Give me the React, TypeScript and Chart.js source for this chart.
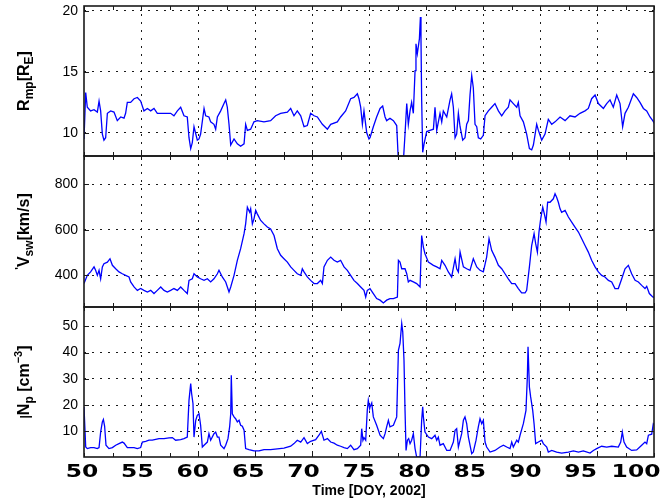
import { useEffect, useRef } from "react";
import { Chart, registerables } from "chart.js";

Chart.register(...registerables);

// Magnetopause standoff distance R_mp [R_E], DOY 50-100, 2002
const rmpSeries: [number, number][] = [
  [50.0, 9.5], [50.15, 13.3], [50.29, 12.1], [50.58, 11.8], [50.88, 11.9], [51.17, 11.7], [51.32, 12.6],
  [51.46, 11.8], [51.61, 9.9], [51.75, 9.4], [51.9, 9.6], [52.05, 11.6], [52.34, 11.8], [52.63, 11.7],
  [52.92, 11.0], [53.22, 11.3], [53.51, 11.2], [53.65, 11.6], [53.8, 12.5], [54.09, 12.5], [54.39, 12.8],
  [54.68, 12.9], [54.97, 12.6], [55.26, 11.8], [55.56, 12.0], [55.85, 11.8], [56.14, 12.0], [56.43, 11.6],
  [57.02, 11.6], [57.6, 11.6], [57.89, 11.4], [58.19, 11.8], [58.48, 12.1], [58.77, 11.4], [59.06, 11.3],
  [59.21, 9.6], [59.36, 8.7], [59.5, 9.2], [59.65, 10.5], [59.94, 9.4], [60.09, 9.5], [60.23, 9.9],
  [60.53, 12.0], [60.67, 11.4], [60.96, 11.3], [61.11, 10.9], [61.4, 10.7], [61.55, 10.3], [61.7, 11.3],
  [61.99, 11.8], [62.28, 12.4], [62.43, 12.7], [62.57, 12.1], [62.72, 10.7], [62.87, 9.0], [63.16, 9.5],
  [63.45, 9.1], [63.74, 8.9], [64.04, 9.1], [64.18, 10.7], [64.33, 10.2], [64.62, 10.3], [64.91, 10.9],
  [65.2, 11.0], [65.79, 10.9], [66.37, 11.0], [66.81, 11.4], [67.25, 11.6], [67.84, 11.7], [68.13, 12.0],
  [68.42, 11.4], [68.71, 11.8], [69.01, 11.4], [69.3, 10.5], [69.59, 10.6], [69.88, 11.6], [70.18, 11.4],
  [70.47, 11.3], [70.91, 10.7], [71.35, 10.3], [71.64, 10.7], [72.22, 10.9], [72.51, 11.3], [72.95, 11.8],
  [73.39, 12.8], [73.68, 12.9], [73.98, 13.2], [74.12, 12.8], [74.27, 12.1], [74.42, 10.7], [74.56, 11.8],
  [74.8, 10.0], [75.0, 9.5], [75.09, 9.6], [75.38, 10.5], [75.67, 11.3], [75.97, 12.0], [76.2, 12.2],
  [76.41, 11.3], [76.55, 11.0], [76.84, 11.2], [77.14, 11.0], [77.43, 10.6], [77.58, 7.6], [77.72, 7.6],
  [78.01, 7.6], [78.16, 9.9], [78.31, 12.4], [78.45, 10.7], [78.6, 11.8], [78.74, 12.5], [78.89, 11.6],
  [79.04, 15.1], [79.12, 17.3], [79.24, 16.5], [79.42, 17.7], [79.51, 19.5], [79.56, 17.7], [79.62, 12.7],
  [79.71, 8.4], [79.83, 9.1], [80.06, 10.1], [80.35, 10.2], [80.65, 10.3], [80.79, 12.1], [80.94, 10.2],
  [81.23, 11.6], [81.38, 10.9], [81.52, 11.8], [81.82, 11.3], [82.11, 12.7], [82.25, 13.2], [82.4, 12.1],
  [82.55, 9.6], [82.69, 9.9], [82.84, 11.6], [82.99, 10.5], [83.22, 9.4], [83.42, 9.6], [83.57, 10.7],
  [83.72, 11.0], [83.86, 13.1], [84.01, 14.7], [84.15, 13.7], [84.3, 10.7], [84.45, 10.5], [84.59, 9.6],
  [84.8, 9.5], [85.03, 9.8], [85.18, 11.4], [85.47, 11.8], [85.76, 12.1], [86.05, 12.4], [86.35, 11.8],
  [86.64, 11.4], [86.93, 11.8], [87.22, 12.1], [87.37, 12.7], [87.66, 12.4], [87.96, 12.1], [88.1, 12.5],
  [88.25, 11.4], [88.54, 10.9], [88.83, 9.9], [89.07, 8.7], [89.27, 8.6], [89.42, 9.0], [89.71, 10.7],
  [89.86, 10.2], [90.15, 9.4], [90.44, 9.9], [90.73, 11.1], [91.03, 10.7], [91.32, 10.9], [91.76, 11.3],
  [92.2, 11.0], [92.63, 11.4], [93.07, 11.3], [93.51, 11.6], [93.95, 11.8], [94.24, 12.0], [94.53, 12.8],
  [94.83, 13.1], [95.12, 12.4], [95.56, 12.0], [95.85, 12.4], [96.14, 12.7], [96.43, 12.1], [96.73, 13.1],
  [97.02, 12.4], [97.25, 10.5], [97.46, 11.6], [97.75, 12.1], [98.19, 13.2], [98.48, 12.9], [98.77, 12.5],
  [99.07, 12.0], [99.36, 11.8], [99.65, 11.3], [99.89, 11.0], [100.09, 10.7],
];

// Solar wind speed V_sw [km/s]
const vswSeries: [number, number][] = [
  [50.0, 364], [50.29, 400], [50.58, 415], [50.88, 437], [51.02, 422], [51.17, 400], [51.32, 422],
  [51.46, 385], [51.61, 437], [51.75, 451], [52.05, 458], [52.28, 473], [52.49, 444], [52.78, 429],
  [53.07, 415], [53.36, 407], [53.65, 400], [53.95, 393], [54.09, 371], [54.39, 349], [54.68, 334],
  [54.97, 342], [55.26, 334], [55.56, 327], [55.85, 334], [56.14, 320], [56.43, 334], [56.73, 349],
  [57.02, 334], [57.31, 327], [57.6, 334], [57.89, 342], [58.19, 334], [58.48, 349], [58.77, 334],
  [59.06, 320], [59.21, 378], [59.5, 385], [59.65, 407], [59.94, 393], [60.23, 385], [60.53, 378],
  [60.82, 385], [61.11, 371], [61.4, 385], [61.7, 407], [61.84, 422], [62.13, 393], [62.43, 371],
  [62.72, 327], [62.87, 349], [63.16, 400], [63.45, 466], [63.74, 517], [64.04, 583], [64.18, 626],
  [64.33, 699], [64.53, 677], [64.62, 692], [64.77, 626], [64.91, 648], [65.06, 685], [65.2, 670],
  [65.5, 641], [65.79, 626], [66.08, 612], [66.37, 604], [66.67, 575], [66.96, 517], [67.25, 488],
  [67.54, 473], [67.84, 458], [68.13, 437], [68.42, 422], [68.71, 407], [69.01, 400], [69.15, 429],
  [69.3, 415], [69.59, 393], [69.88, 378], [70.18, 364], [70.47, 364], [70.76, 378], [70.91, 364],
  [71.05, 437], [71.35, 466], [71.64, 480], [71.93, 466], [72.22, 458], [72.51, 466], [72.81, 437],
  [73.1, 422], [73.39, 400], [73.68, 378], [73.98, 364], [74.27, 349], [74.56, 334], [74.71, 305],
  [74.85, 334], [75.09, 342], [75.38, 320], [75.67, 298], [75.97, 291], [76.26, 279], [76.55, 291],
  [76.84, 298], [77.14, 298], [77.49, 305], [77.58, 466], [77.72, 458], [77.87, 429], [78.16, 429],
  [78.31, 407], [78.45, 371], [78.6, 378], [78.89, 371], [79.18, 364], [79.48, 349], [79.62, 575],
  [79.77, 524], [79.91, 495], [80.21, 458], [80.65, 444], [80.94, 437], [81.23, 429], [81.38, 466],
  [81.67, 444], [81.96, 415], [82.25, 393], [82.55, 473], [82.69, 429], [82.84, 415], [82.99, 502],
  [83.28, 437], [83.57, 429], [83.86, 422], [84.15, 473], [84.45, 437], [84.74, 422], [85.03, 415],
  [85.32, 480], [85.53, 561], [85.76, 510], [86.05, 480], [86.35, 444], [86.64, 429], [86.93, 407],
  [87.22, 385], [87.52, 364], [87.81, 364], [88.1, 342], [88.39, 323], [88.69, 323], [88.83, 334],
  [89.07, 437], [89.27, 531], [89.48, 583], [89.62, 539], [89.77, 502], [89.91, 590], [90.06, 648],
  [90.24, 699], [90.38, 670], [90.53, 634], [90.67, 721], [90.88, 721], [91.17, 736], [91.32, 758],
  [91.46, 743], [91.61, 721], [91.76, 692], [91.9, 677], [92.2, 685], [92.49, 656], [92.78, 634],
  [93.07, 612], [93.37, 590], [93.66, 561], [93.95, 531], [94.24, 502], [94.53, 466], [94.83, 437],
  [95.12, 415], [95.41, 400], [95.7, 393], [96.0, 378], [96.29, 371], [96.58, 342], [96.87, 342],
  [97.17, 385], [97.46, 429], [97.75, 444], [98.04, 407], [98.34, 378], [98.63, 371], [98.92, 356],
  [99.21, 342], [99.36, 352], [99.59, 320], [99.89, 305], [100.09, 302],
];

// Proton density N_p [cm^-3]
const npSeries: [number, number][] = [
  [50.0, 19.3], [50.15, 4.0], [50.29, 3.4], [50.58, 3.8], [50.88, 3.8], [51.17, 3.4], [51.32, 3.8],
  [51.46, 9.7], [51.61, 13.6], [51.7, 14.5], [51.81, 11.9], [51.93, 4.7], [52.19, 3.4], [52.49, 3.8],
  [52.78, 4.7], [53.07, 5.3], [53.36, 5.9], [53.51, 5.5], [53.8, 3.8], [54.09, 3.8], [54.39, 3.8],
  [54.68, 3.4], [54.97, 3.8], [55.12, 5.9], [55.41, 6.2], [55.7, 6.6], [55.99, 6.6], [56.29, 6.9],
  [56.58, 7.2], [57.02, 7.2], [57.46, 7.5], [57.75, 7.6], [58.04, 6.6], [58.48, 6.8], [58.77, 7.2],
  [59.06, 7.8], [59.21, 21.8], [59.36, 28.2], [59.44, 24.4], [59.56, 20.6], [59.65, 7.8], [59.8, 14.2],
  [59.94, 16.1], [60.09, 16.7], [60.23, 12.3], [60.38, 4.0], [60.53, 4.7], [60.82, 5.9], [60.96, 9.1],
  [61.11, 6.6], [61.4, 9.1], [61.55, 9.7], [61.7, 7.8], [61.84, 7.8], [61.99, 4.7], [62.28, 3.4],
  [62.43, 4.7], [62.63, 7.2], [62.78, 11.9], [62.87, 16.7], [62.92, 31.4], [63.01, 16.7], [63.16, 15.5],
  [63.3, 14.8], [63.45, 13.6], [63.6, 14.2], [63.74, 12.3], [63.89, 11.9], [64.04, 10.4], [64.18, 3.4],
  [64.47, 3.0], [64.91, 2.5], [65.35, 2.5], [65.79, 3.0], [66.37, 3.0], [66.96, 3.3], [67.54, 3.6],
  [68.13, 4.3], [68.42, 5.3], [68.71, 6.6], [69.01, 5.9], [69.3, 7.6], [69.59, 5.3], [69.88, 6.2],
  [70.32, 6.8], [70.61, 8.5], [70.82, 10.0], [71.05, 6.6], [71.35, 7.2], [71.64, 5.9], [71.93, 5.5],
  [72.22, 4.7], [72.51, 4.3], [72.81, 3.8], [73.1, 3.4], [73.39, 4.7], [73.68, 3.0], [73.98, 3.4],
  [74.27, 4.7], [74.36, 11.0], [74.47, 6.6], [74.56, 7.6], [74.71, 6.6], [74.85, 18.0], [74.94, 21.8],
  [75.06, 18.7], [75.09, 19.3], [75.24, 20.8], [75.38, 15.5], [75.67, 12.3], [75.97, 8.5], [76.26, 7.2],
  [76.41, 9.1], [76.55, 11.7], [76.7, 14.2], [76.84, 11.7], [77.14, 12.3], [77.43, 15.5], [77.58, 40.9],
  [77.72, 43.5], [77.87, 51.1], [77.96, 47.9], [78.07, 37.1], [78.16, 18.0], [78.25, 2.7], [78.37, 6.6],
  [78.48, 7.2], [78.6, 5.3], [78.74, 6.6], [78.89, 9.1], [79.04, 3.4], [79.18, 0.2], [79.48, 0.2],
  [79.62, 14.2], [79.71, 19.3], [79.77, 15.5], [79.91, 9.7], [80.21, 7.8], [80.5, 7.2], [80.79, 8.5],
  [80.94, 6.6], [81.08, 7.8], [81.23, 4.7], [81.52, 5.3], [81.82, 2.7], [82.11, 2.7], [82.4, 5.9],
  [82.55, 10.4], [82.69, 11.0], [82.84, 4.0], [82.99, 6.6], [83.13, 9.1], [83.28, 14.2], [83.42, 15.5],
  [83.57, 12.9], [83.72, 7.8], [84.01, 1.5], [84.15, 2.1], [84.39, 6.6], [84.59, 11.7], [84.74, 14.8],
  [84.89, 12.9], [85.03, 14.2], [85.18, 5.9], [85.32, 4.0], [85.62, 2.1], [86.05, 2.7], [86.49, 4.0],
  [86.79, 4.7], [87.08, 4.0], [87.37, 3.4], [87.52, 5.9], [87.66, 4.0], [87.96, 6.6], [88.1, 5.9],
  [88.25, 8.5], [88.54, 12.9], [88.77, 18.0], [88.89, 30.7], [88.95, 42.2], [89.07, 26.9], [89.18, 23.1],
  [89.36, 18.0], [89.48, 12.9], [89.62, 5.3], [89.86, 5.9], [90.15, 6.6], [90.29, 5.3], [90.59, 4.0],
  [90.73, 2.1], [91.03, 2.7], [91.46, 2.1], [91.9, 1.7], [92.49, 2.1], [92.93, 2.5], [93.37, 2.1],
  [93.8, 2.5], [94.39, 1.7], [94.68, 2.7], [94.97, 3.4], [95.41, 4.3], [95.85, 4.0], [96.29, 4.3],
  [96.87, 4.0], [97.08, 5.9], [97.22, 9.7], [97.37, 5.9], [97.6, 4.0], [98.04, 2.7], [98.48, 2.9],
  [98.92, 4.7], [99.21, 5.9], [99.36, 5.3], [99.51, 8.5], [99.8, 8.9], [99.94, 12.9], [100.09, 12.3],
];

// Axis ranges and tick labels
const dayRange = [50, 100];
const dayTickStep = 2.5;
const dayLabelStep = 5;
const rmpRange = [8.1, 20.4];
const rmpTicks = [10, 15, 20];
const vswRange = [261, 924];
const vswTicks = [400, 600, 800];
const npRange = [0.2, 57.4];
const npTicks = [10, 20, 30, 40, 50];
const xTitle = "Time [DOY, 2002]";

type Seg = { text: string; size: number; shift: number };

const rmpTitle: Seg[] = [
  { text: "R", size: 16, shift: 0 },
  { text: "mp", size: 12, shift: 4 },
  { text: "[R", size: 16, shift: 0 },
  { text: "E", size: 12, shift: 4 },
  { text: "]", size: 16, shift: 0 },
];
const vswTitle: Seg[] = [
  { text: "'", size: 11, shift: -6 },
  { text: "V", size: 16, shift: 0 },
  { text: "sw", size: 12, shift: 4 },
  { text: "[km/s]", size: 16, shift: 0 },
];
const npTitle: Seg[] = [
  { text: "|", size: 12, shift: 0 },
  { text: "N", size: 16, shift: 0 },
  { text: "p", size: 12, shift: 4 },
  { text: " [cm", size: 16, shift: 0 },
  { text: "−3", size: 11, shift: -7 },
  { text: "]", size: 16, shift: 0 },
];

const LINE = "#0000ff";
const INK = "#1a1a1a";
const TITLE_FONT = '"Liberation Sans", Arial, sans-serif';

// Solid box around each panel with inward tick marks on all four sides
const framePlugin = {
  id: "frame",
  afterDatasetsDraw(chart: any) {
    const { ctx, chartArea: a, scales } = chart;
    ctx.save();
    ctx.strokeStyle = INK;
    ctx.lineWidth = 1;
    ctx.beginPath();
    scales.x.ticks.forEach((t: any) => {
      const px = Math.round(scales.x.getPixelForValue(t.value)) + 0.5;
      ctx.moveTo(px, a.bottom);
      ctx.lineTo(px, a.bottom - 4);
      ctx.moveTo(px, a.top);
      ctx.lineTo(px, a.top + 4);
    });
    scales.y.ticks.forEach((t: any) => {
      const py = Math.round(scales.y.getPixelForValue(t.value)) + 0.5;
      ctx.moveTo(a.left, py);
      ctx.lineTo(a.left + 5, py);
      ctx.moveTo(a.right, py);
      ctx.lineTo(a.right - 5, py);
    });
    ctx.stroke();
    ctx.lineWidth = 1.6;
    ctx.strokeRect(a.left, a.top, a.right - a.left, a.bottom - a.top);
    ctx.restore();
  },
};

// Rotated y-axis title with sub/superscripts
function richTitlePlugin(segs: Seg[], x: number) {
  return {
    id: "richTitle",
    afterDraw(chart: any) {
      const { ctx, chartArea: a } = chart;
      ctx.save();
      const widths = segs.map((s) => {
        ctx.font = `bold ${s.size}px ${TITLE_FONT}`;
        return ctx.measureText(s.text).width;
      });
      const total = widths.reduce((p, w) => p + w, 0);
      ctx.translate(x, (a.top + a.bottom) / 2);
      ctx.rotate(-Math.PI / 2);
      ctx.fillStyle = "#000";
      ctx.textBaseline = "alphabetic";
      ctx.textAlign = "left";
      let cx = -total / 2;
      segs.forEach((s, i) => {
        ctx.font = `bold ${s.size}px ${TITLE_FONT}`;
        ctx.fillText(s.text, cx, s.shift);
        cx += widths[i];
      });
      ctx.restore();
    },
  };
}

// Wide day-of-year labels under the bottom panel, plus the axis title
const dayLabelPlugin = {
  id: "dayLabels",
  afterDraw(chart: any) {
    const { ctx, chartArea: a, scales } = chart;
    ctx.save();
    ctx.fillStyle = "#000";
    ctx.textAlign = "center";
    ctx.textBaseline = "alphabetic";
    ctx.font = 'bold 18px "DejaVu Sans", sans-serif';
    scales.x.ticks.forEach((t: any) => {
      if (t.value % dayLabelStep !== 0) return;
      const px = a.left + (scales.x.getPixelForValue(t.value) - a.left) * 0.972 - 2;
      ctx.save();
      ctx.translate(px, a.bottom + 20);
      ctx.scale(1.3, 1);
      ctx.fillText(String(t.value), 0, 0);
      ctx.restore();
    });
    ctx.font = `bold 14px ${TITLE_FONT}`;
    ctx.fillText(xTitle, (a.left + a.right) / 2, a.bottom + 38);
    ctx.restore();
  },
};

function buildConfig(
  series: [number, number][],
  yRange: number[],
  yTicks: number[],
  title: Seg[],
  padding: { top: number; bottom: number },
  xHeight: number,
  bottom: boolean
): any {
  const plugins: any[] = [framePlugin, richTitlePlugin(title, 29)];
  if (bottom) plugins.push(dayLabelPlugin);
  return {
    type: "line",
    data: {
      datasets: [
        {
          data: series.map(([x, y]) => ({ x, y })),
          borderColor: LINE,
          borderWidth: 1.3,
          pointRadius: 0,
          tension: 0,
          fill: false,
        },
      ],
    },
    plugins,
    options: {
      animation: false,
      responsive: false,
      devicePixelRatio: 1,
      layout: { padding: { left: 0, right: 12, top: padding.top, bottom: padding.bottom } },
      plugins: {
        legend: { display: false },
        tooltip: { enabled: false },
      },
      scales: {
        x: {
          type: "linear",
          min: dayRange[0],
          max: dayRange[1],
          ticks: { display: false, stepSize: dayTickStep },
          border: { display: false, dash: [2, 6] },
          grid: {
            drawTicks: false,
            lineWidth: 1,
            color: (c: any) => {
              const v = c.tick ? c.tick.value : 0;
              return v % dayLabelStep === 0 && v > dayRange[0] && v < dayRange[1] ? INK : "rgba(0,0,0,0)";
            },
          },
          afterFit: (s: any) => {
            s.height = xHeight;
            s.paddingLeft = 0;
            s.paddingRight = 0;
          },
        },
        y: {
          type: "linear",
          min: yRange[0],
          max: yRange[1],
          afterBuildTicks: (s: any) => {
            s.ticks = yTicks.map((v) => ({ value: v }));
          },
          afterFit: (s: any) => {
            s.width = 84;
            s.paddingTop = 0;
            s.paddingBottom = 0;
          },
          ticks: {
            color: "#000",
            padding: 6,
            font: { family: TITLE_FONT, size: 14 },
          },
          border: { display: false, dash: [2, 6] },
          grid: { drawTicks: false, lineWidth: 1, color: INK },
        },
      },
    },
  };
}

export default function App() {
  const c1 = useRef<HTMLCanvasElement>(null);
  const c2 = useRef<HTMLCanvasElement>(null);
  const c3 = useRef<HTMLCanvasElement>(null);

  useEffect(() => {
    const charts = [
      new Chart(c1.current!, buildConfig(rmpSeries, rmpRange, rmpTicks, rmpTitle, { top: 6, bottom: 4 }, 0, false)),
      new Chart(c2.current!, buildConfig(vswSeries, vswRange, vswTicks, vswTitle, { top: 6, bottom: 3 }, 0, false)),
      new Chart(c3.current!, buildConfig(npSeries, npRange, npTicks, npTitle, { top: 7, bottom: 0 }, 47, true)),
    ];
    return () => charts.forEach((ch) => ch.destroy());
  }, []);

  const style = (top: number): React.CSSProperties => ({ position: "absolute", left: 0, top });

  return (
    <div>
      <canvas ref={c1} width={666} height={160} style={style(0)} />
      <canvas ref={c2} width={666} height={160} style={style(150)} />
      <canvas ref={c3} width={666} height={204} style={style(300)} />
    </div>
  );
}
